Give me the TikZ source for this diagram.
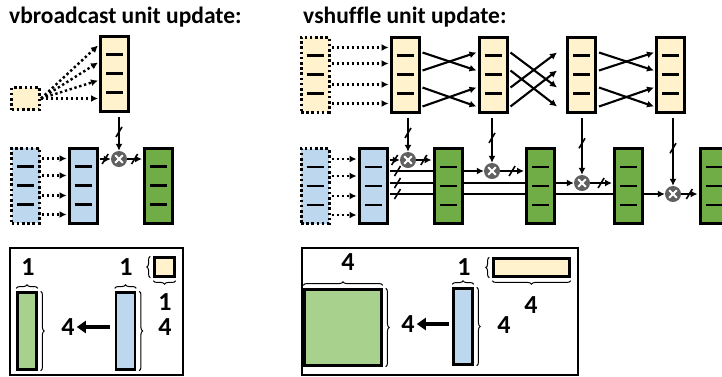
\documentclass[tikz,border=0pt]{standalone}
\usepackage{fontspec}
\setmainfont{Carlito}[Ligatures=NoCommon]
\usetikzlibrary{positioning,calc,arrows.meta,decorations.markings,decorations.pathreplacing}

\definecolor{ylw}{HTML}{FFF2CC}
\definecolor{blu}{HTML}{BDD7EE}
\definecolor{grn}{HTML}{70AD47}
\definecolor{lgrn}{HTML}{A9D18E}
\definecolor{mgray}{HTML}{606060}

\pgfdeclarelayer{bg}
\pgfsetlayers{bg,main}

\tikzset{
  vec/.style={rectangle, draw=black, line width=3pt, minimum width=28pt, minimum height=75pt, inner sep=0pt},
  ghost/.style={vec, dash pattern=on 2.6pt off 2.6pt},
  bar/.style={rectangle, draw=black, line width=2.4pt, inner sep=0pt},
  mult/.style={circle, fill=mgray, minimum size=16pt, inner sep=0pt, path picture={
      \draw[white, line width=2pt] ([shift={(-3.8pt,-3.8pt)}]path picture bounding box.center) -- ([shift={(3.8pt,3.8pt)}]path picture bounding box.center);
      \draw[white, line width=2pt] ([shift={(-3.8pt,3.8pt)}]path picture bounding box.center) -- ([shift={(3.8pt,-3.8pt)}]path picture bounding box.center);}},
  wire/.style={line width=2.1pt, -{Latex[length=7pt,width=7pt]}},
  dotwire/.style={wire, line width=2.4pt, dash pattern=on 2.4pt off 2.6pt},
  bus/.style={postaction={decorate}, decoration={markings, mark=at position #1 with {\pgftransformresetnontranslations \draw[line width=1.6pt,-] (-3pt,-5pt) -- (3pt,5pt);}}},
  bus/.default=0.5,
  brc/.style={decorate, decoration={brace, amplitude=3.5pt}, line width=1pt},
  bigarrow/.style={line width=4pt, -{Triangle[length=9pt,width=12pt]}},
  num/.style={font=\bfseries\fontsize{26}{28}\selectfont, inner sep=0pt},
  title/.style={font=\bfseries\fontsize{23.5}{26}\selectfont, inner sep=0pt, anchor=base west}
}

\newcommand{\lanes}[1]{\foreach \d in {-19,0,19} \draw[line width=2.8pt] ($(#1.center)+(-8.5,\d)$) -- ++(17,0);}

\begin{document}
\begin{tikzpicture}[x=1pt, y=-1pt]
  \useasboundingbox (0,0) rectangle (722,376);

  \node[title] (tl) at (9,23) {vbroadcast unit update:};
  \node[title] (tr) at (303,23) {vshuffle unit update:};

  % vbroadcast
  \node[ghost, fill=ylw, minimum height=22pt] (ly0) at (25.5,98.5) {};
  \node[vec, fill=ylw] (ly1) at (114.5,73.5) {};
  \node[ghost, fill=blu] (lb0) at (25.5,185.5) {};
  \node[vec, fill=blu] (lb1) at (83,185.5) {};
  \node[vec, fill=grn] (lg1) at (158.5,185.5) {};
  \node[mult] (lm1) at (119,159) {};
  \foreach \n in {ly1,lb0,lb1,lg1} {\lanes{\n}}

  \foreach \o in {-28,-11,7,25}
    \draw[dotwire] (ly0.east) -- ($(ly1.west)+(-1,\o)$);
  \foreach \o in {-27,-10,10,29}
    \draw[dotwire] ($(lb0.east)+(1,\o)$) -- ($(lb1.west)+(-1,\o)$);
  \draw[wire, bus=0.45] ($(lm1 |- ly1.south)+(0,4)$) -- (lm1.north);
  \draw[wire, bus] ($(lb1.east |- lm1)+(1,0)$) -- (lm1.west);
  \draw[wire, bus] (lm1.east) -- ($(lg1.west |- lm1)+(-1,0)$);

  % vshuffle
  \node[ghost, fill=ylw] (y0) at (315,74.5) {};
  \node[vec, fill=ylw] (y1) at (405,74.5) {};
  \node[vec, fill=ylw] (y2) at (493,74.5) {};
  \node[vec, fill=ylw] (y3) at (581.5,74.5) {};
  \node[vec, fill=ylw] (y4) at (670.5,74.5) {};
  \node[ghost, fill=blu] (b0) at (315,186) {};
  \node[vec, fill=blu] (b1) at (373,186) {};
  \node[vec, fill=grn] (g1) at (448,186) {};
  \node[vec, fill=grn] (g2) at (540.5,186) {};
  \node[vec, fill=grn] (g3) at (628.5,186) {};
  \node[vec, fill=grn] (g4) at (714,186) {};
  \node[mult] (m1) at (408,160) {};
  \node[mult] (m2) at (492,171) {};
  \node[mult] (m3) at (582,183) {};
  \node[mult] (m4) at (673,194) {};
  \foreach \n in {y0,y1,y2,y3,y4,b0,b1,g1,g2,g3,g4} {\lanes{\n}}

  \foreach \o in {-27,-11,10,29}
    \draw[dotwire] ($(y0.east)+(1,\o)$) -- ($(y1.west)+(-1,\o)$);
  \foreach \o in {-27,-10,10,29}
    \draw[dotwire] ($(b0.east)+(1,\o)$) -- ($(b1.west)+(-1,\o)$);
  \foreach \a/\b in {-22/-4,-4/-22,13/32,32/13} {
    \draw[wire] ($(y1.east)+(2,\a)$) -- ($(y2.west)+(-1,\b)$);
    \draw[wire] ($(y3.east)+(2,\a)$) -- ($(y4.west)+(-1,\b)$);
  }
  \foreach \a/\b in {-22/13,-4/32,13/-22,32/-4}
    \draw[wire] ($(y2.east)+(2,\a)$) -- ($(y3.west)+(-9,\b)$);
  \foreach \i in {1,...,4}
    \draw[wire, bus=0.45] ($(m\i |- y\i.south)+(0,4)$) -- (m\i.north);
  \draw[wire, bus] ($(b1.east |- m1)+(1,0)$) -- (m1.west);
  \begin{pgfonlayer}{bg}
    \foreach \i in {2,3,4}
      \draw[wire, bus=8pt] ($(b1.east |- m\i)+(1,0)$) -- (m\i.west);
  \end{pgfonlayer}
  \draw[wire, bus] (m1.east) -- ($(g1.west |- m1)+(-1,0)$);
  \draw[wire, bus] (m2.east) -- ($(g2.west |- m2)+(-1,0)$);
  \draw[wire, bus] (m3.east) -- ($(g3.west |- m3)+(-1,0)$);
  \draw[wire, bus] (m4.east) -- ($(g4.west |- m4)+(-1,0)$);

  % shapes
  \draw[line width=2pt] (10,248) rectangle (183,375);
  \node[bar, fill=lgrn, minimum width=19pt, minimum height=77pt] (qg) at (27,331) {};
  \node[bar, fill=blu, minimum width=19pt, minimum height=77pt] (qb) at (125.5,331) {};
  \node[bar, fill=ylw, minimum width=20pt, minimum height=19pt] (qy) at (164.5,267) {};
  \draw[brc] ([yshift=3pt]qg.north west) -- ([yshift=3pt]qg.north east);
  \draw[brc] ([xshift=3pt]qg.north east) -- ([xshift=3pt]qg.south east);
  \draw[brc] ([yshift=3pt]qb.north west) -- ([yshift=3pt]qb.north east);
  \draw[brc] ([xshift=3pt]qb.north east) -- ([xshift=3pt]qb.south east);
  \draw[brc] ([xshift=-3pt]qy.south west) -- ([xshift=-3pt]qy.north west);
  \draw[brc] ([yshift=-3pt]qy.south east) -- ([yshift=-3pt]qy.south west);
  \node[num] (qg1) at (28,267) {1};
  \node[num] (qg4) at (68,327) {4};
  \node[num] (qb1) at (126,267) {1};
  \node[num] (qb4) at (165,327) {4};
  \node[num] (qy1) at (165,302) {1};
  \draw[bigarrow] ([xshift=-5pt]qb.west |- qg4.east) -- ([xshift=2pt]qg4.east);

  \draw[line width=2pt] (302,248) rectangle (578,375);
  \node[bar, fill=lgrn, minimum width=77pt, minimum height=76pt] (rg) at (343,327.5) {};
  \node[bar, fill=blu, minimum width=19pt, minimum height=76pt] (rb) at (463,326.5) {};
  \node[bar, fill=ylw, minimum width=76pt, minimum height=18pt] (ry) at (531.5,267.5) {};
  \draw[brc] ([yshift=3pt]rg.north west) -- ([yshift=3pt]rg.north east);
  \draw[brc] ([xshift=3pt]rg.north east) -- ([xshift=3pt]rg.south east);
  \draw[brc] ([yshift=3pt]rb.north west) -- ([yshift=3pt]rb.north east);
  \draw[brc] ([xshift=3pt]rb.north east) -- ([xshift=3pt]rb.south east);
  \draw[brc] ([xshift=-3pt]ry.south west) -- ([xshift=-3pt]ry.north west);
  \draw[brc] ([yshift=-3pt]ry.south east) -- ([yshift=-3pt]ry.south west);
  \node[num] (rg4) at (348,262) {4};
  \node[num] (rgh) at (408,324) {4};
  \node[num] (rb1) at (464,267) {1};
  \node[num] (rb4) at (504,325) {4};
  \node[num] (ry4) at (531,305) {4};
  \draw[bigarrow] ([xshift=-3pt]rb.west |- rgh.east) -- ([xshift=2pt]rgh.east);
\end{tikzpicture}
\end{document}
